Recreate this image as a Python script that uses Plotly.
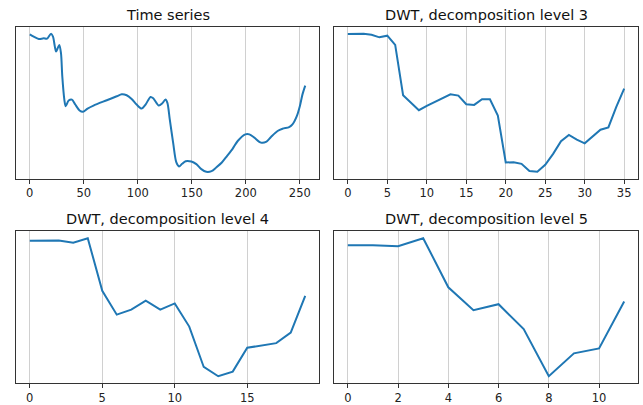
import plotly.graph_objects as go

# ---- data (y in arbitrary units) ----
ts_x = [0, 3.7, 8.3, 12.9, 16, 19.7, 21.5, 24.3, 25.8, 27.4, 28.9, 30.1, 32, 33.2, 36, 39, 42.1,
        46.1, 49.2, 53.5, 59, 71.3, 80.5, 85.1, 89.7, 94.3, 98.9, 103.5, 107.2, 111.8, 114.3,
        119.5, 122.5, 125.6, 127.4, 129.6, 132.7, 135.7, 138.2, 141, 144.3, 149.6, 154.2,
        158.8, 163.4, 168.3, 172.6, 177.8, 182.7, 187.9, 192.5, 199.6, 203.3, 207.9, 214,
        218.7, 223.3, 229.4, 234, 240.1, 243.2, 247.2, 250, 252.4, 255]
ts_y = [437, 430, 423, 425, 424, 439, 430, 385, 395, 405, 380, 310, 240, 220, 237, 240, 225,
        207, 203, 213, 222, 238, 250, 256, 253, 242, 225, 213, 225, 248, 244,
        222, 228, 240, 230, 180, 110, 50, 38, 46, 54, 53, 45, 30, 22, 24, 35,
        50, 70, 92, 115, 135, 135, 125, 110, 112, 127, 145, 152, 157, 165, 190, 220, 255, 282]

l3_y = [438, 439, 439, 436, 428, 433, 405, 253, 230, 208, 221, 232, 244, 256, 252, 226, 224,
        241, 241, 192, 50, 51, 46, 24, 22, 43, 76, 114, 133, 119, 108, 128, 149, 156, 218, 273]
l4_y = [429, 429, 430, 423, 437, 278, 206, 221, 248, 221, 240, 170, 48, 20, 34, 106, 112,
        120, 152, 263]
l5_y = [415, 415, 412, 436, 288, 219, 237, 162, 20, 89, 104, 245]

titles = ["Time series", "DWT, decomposition level 3",
          "DWT, decomposition level 4", "DWT, decomposition level 5"]
xs = [ts_x, list(range(len(l3_y))), list(range(len(l4_y))), list(range(len(l5_y)))]
ys = [ts_y, l3_y, l4_y, l5_y]
dticks = [50, 5, 5, 2]
shapes = ["spline", "linear", "linear", "linear"]

W, H = 643, 405
dom_x = [[16 / W, 319 / W], [334 / W, 638 / W], [16 / W, 319 / W], [334 / W, 638 / W]]
dom_y = [[1 - 180 / H, 1 - 27 / H], [1 - 180 / H, 1 - 27 / H],
         [1 - 386 / H, 1 - 233 / H], [1 - 386 / H, 1 - 233 / H]]

fig = go.Figure()
layout = dict(width=W, height=H, margin=dict(l=0, r=0, t=0, b=0),
              paper_bgcolor="white", plot_bgcolor="white", showlegend=False,
              font=dict(family="DejaVu Sans", color="#222"), annotations=[])

for i in range(4):
    n = "" if i == 0 else str(i + 1)
    x, y = xs[i], ys[i]
    fig.add_trace(go.Scatter(x=x, y=y, mode="lines", xaxis="x" + n, yaxis="y" + n,
                             line=dict(color="#1f77b4", width=2, shape=shapes[i], smoothing=0.8),
                             hoverinfo="skip"))
    xmin, xmax = min(x), max(x)
    ymin, ymax = min(y), max(y)
    xm = 0.05 * (xmax - xmin)
    ym = 0.05 * (ymax - ymin)
    layout["xaxis" + n] = dict(domain=dom_x[i], anchor="y" + n, range=[xmin - xm, xmax + xm],
                               dtick=dticks[i], tick0=0, showgrid=True, gridcolor="#d0d0d0",
                               gridwidth=1, zeroline=False, showline=True, linecolor="#333",
                               linewidth=1, mirror=True, ticks="outside", ticklen=4,
                               tickcolor="#333", tickwidth=1,
                               tickfont=dict(size=11.5, color="#222"))
    layout["yaxis" + n] = dict(domain=dom_y[i], anchor="x" + n, range=[ymin - ym, ymax + ym],
                               showgrid=False, zeroline=False, showline=True, linecolor="#333",
                               linewidth=1, mirror=True, showticklabels=False, ticks="")
    layout["annotations"].append(dict(text=titles[i], xref="paper", yref="paper",
                                      x=(dom_x[i][0] + dom_x[i][1]) / 2, y=dom_y[i][1],
                                      xanchor="center", yanchor="bottom", yshift=2,
                                      showarrow=False, font=dict(size=14.5, color="#111")))

fig.update_layout(**layout)
fig.write_html("out.html")
